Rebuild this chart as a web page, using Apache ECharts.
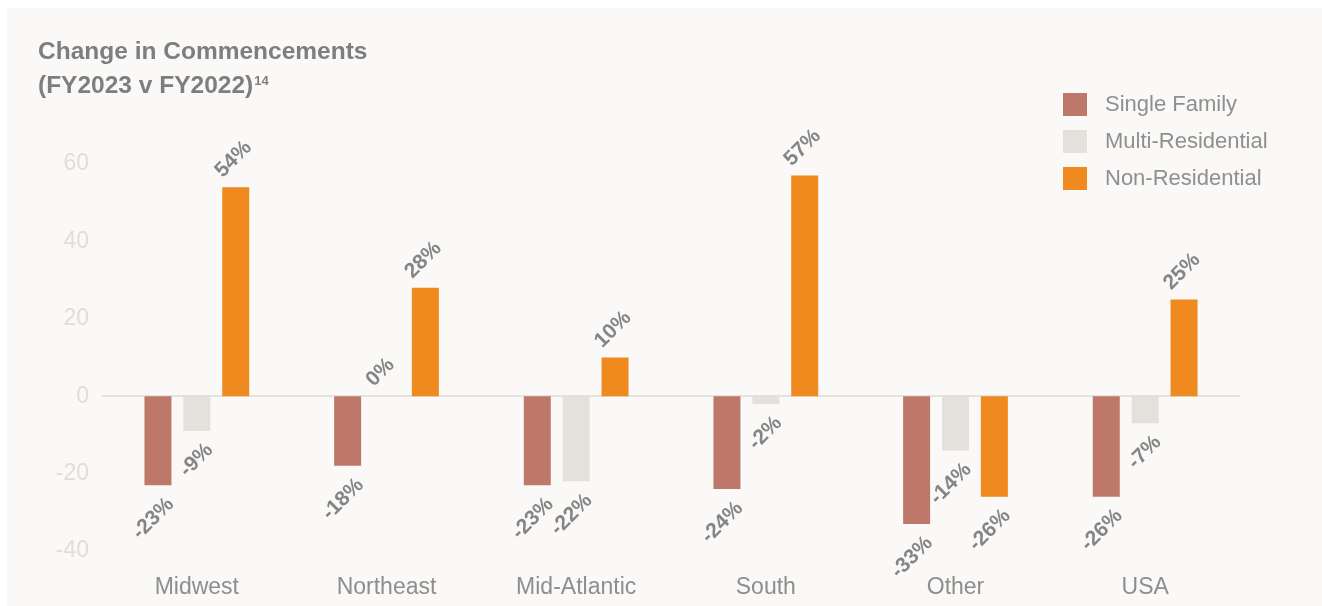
<!DOCTYPE html>
<html>
<head>
<meta charset="utf-8">
<script src="https://cdn.jsdelivr.net/npm/echarts@6/dist/echarts.min.js"></script>
<style>
  html, body { margin: 0; padding: 0; background: #ffffff; }
  #card { position: absolute; left: 7px; top: 8px; right: 0; bottom: 0; background: #faf9f7; }
  #chart { position: absolute; left: 0; top: 0; width: 1322px; height: 606px; }
</style>
</head>
<body>
<div id="card"></div>
<div id="chart"></div>
<script>
const categories = ['Midwest', 'Northeast', 'Mid-Atlantic', 'South', 'Other', 'USA'];
const seriesNames = ['Single Family', 'Multi-Residential', 'Non-Residential'];
const singleFamily = [-23, -18, -23, -24, -33, -26];
const multiResidential = [-9, 0, -22, -2, -14, -7];
const nonResidential = [54, 28, 10, 57, -26, 25];
const yTicks = { min: -40, max: 60, interval: 20 };

const colors = ['#be786a', '#e3e1db', '#f0891e'];
const FONT = 'Liberation Sans';

function buildData(values) {
  return values.map(v => {
    const pos = v >= 0;
    return {
      value: v,
      label: pos ? {
        position: 'top', distance: 13, align: 'left', verticalAlign: 'middle', offset: [-12, -12]
      } : {
        position: 'bottom', distance: 16, align: 'right', verticalAlign: 'middle', offset: [9, 9]
      }
    };
  });
}

const seriesValues = [singleFamily, multiResidential, nonResidential];

const chart = echarts.init(document.getElementById('chart'), null, { renderer: 'canvas' });
chart.setOption({
  backgroundColor: 'transparent',
  animation: false,
  textStyle: { fontFamily: FONT },
  title: {
    left: 38, top: 35, padding: 0,
    text: '{t|Change in Commencements}\n{t|(FY2023 v FY2022)}{s|14}',
    textStyle: {
      rich: {
        t: { fontFamily: FONT, fontSize: 24.5, fontWeight: 'bold', color: '#7e7e7e', lineHeight: 34 },
        s: { fontFamily: FONT, fontSize: 13, fontWeight: 'bold', color: '#7e7e7e', lineHeight: 34, verticalAlign: 'top', padding: [6, 0, 0, 1] }
      }
    }
  },
  legend: {
    orient: 'vertical', left: 1058, top: 88,
    itemWidth: 24, itemHeight: 23, itemGap: 14,
    icon: 'rect',
    data: seriesNames,
    textStyle: { fontFamily: FONT, fontSize: 22, color: '#8f8f8f', padding: [0, 0, 0, 13] }
  },
  grid: { left: 102, right: 82, top: 164, bottom: 55, containLabel: false },
  xAxis: {
    type: 'category', data: categories,
    axisLine: { show: false, onZero: false },
    axisTick: { show: false },
    axisLabel: { fontFamily: FONT, fontSize: 23, color: '#8e8e8e', margin: 25 },
    splitLine: { show: false }
  },
  yAxis: {
    type: 'value', min: yTicks.min, max: yTicks.max, interval: yTicks.interval,
    axisLine: { show: false }, axisTick: { show: false },
    axisLabel: { fontFamily: FONT, fontSize: 23, color: '#e0ded8', margin: 13 },
    splitLine: {
      show: true,
      lineStyle: {
        width: 2,
        color: ['rgba(0,0,0,0)', 'rgba(0,0,0,0)', '#e4e2dc', 'rgba(0,0,0,0)', 'rgba(0,0,0,0)', 'rgba(0,0,0,0)']
      }
    }
  },
  series: seriesValues.map((vals, i) => ({
    name: seriesNames[i],
    type: 'bar',
    barWidth: 27,
    barGap: '44%',
    itemStyle: { color: colors[i] },
    label: {
      show: true, rotate: 45,
      fontFamily: FONT, fontSize: 21, fontWeight: 'bold', color: '#858585',
      formatter: p => p.value + '%'
    },
    data: buildData(vals)
  }))
});
</script>
</body>
</html>
